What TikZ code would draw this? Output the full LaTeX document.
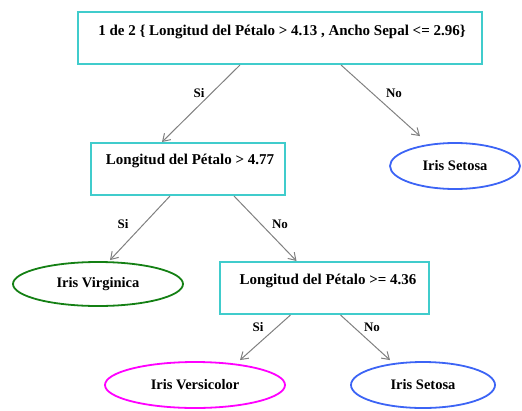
\documentclass[tikz,border=0pt]{standalone}
\usepackage{fontspec}
\setmainfont{Liberation Serif}
\usetikzlibrary{arrows.meta,shapes.geometric,calc}
\definecolor{boxc}{RGB}{64,204,204}
\definecolor{greenc}{RGB}{20,128,20}
\definecolor{magc}{RGB}{255,0,255}
\definecolor{bluec}{RGB}{60,100,245}
\definecolor{arrc}{RGB}{128,128,128}
\tikzset{
  box/.style={draw=boxc, line width=2pt, rectangle, inner sep=0pt},
  leaf/.style={ellipse, line width=1.8pt, inner sep=0pt, font=\bfseries\fontsize{14.5}{16}\selectfont},
  txt/.style={font=\bfseries\fontsize{15}{17}\selectfont, inner sep=0pt},
  edge/.style={draw=arrc, line width=1pt, -{Straight Barb[length=7pt,width=9pt,line width=1pt]}},
  elab/.style={font=\bfseries\fontsize{13}{14}\selectfont, inner sep=0pt}
}
\begin{document}
\begin{tikzpicture}[x=1pt,y=-1pt]
\useasboundingbox (0,0) rectangle (522,410);
% boxes
\node[box, minimum width=404pt, minimum height=52pt] (b1) at (280,38) {};
\node[txt] (t1) at (282,32) {1 de 2 \{ Longitud del Pétalo > 4.13 , Ancho Sepal <= 2.96\}};
\node[box, minimum width=194pt, minimum height=52pt] (b2) at (188,169) {};
\node[txt] (t2) at (190,161) {Longitud del Pétalo > 4.77};
\node[box, minimum width=209pt, minimum height=52pt] (b3) at (324.5,288) {};
\node[txt] (t3) at (328,281) {Longitud del Pétalo >= 4.36};
% leaves
\node[leaf, draw=bluec, minimum width=130pt, minimum height=46pt] (s1) at (455,166) {Iris Setosa};
\node[leaf, draw=greenc, minimum width=170pt, minimum height=44pt] (v1) at (98,284) {Iris Virginica};
\node[leaf, draw=magc, minimum width=180pt, minimum height=46pt] (c1) at (195,385) {Iris Versicolor};
\node[leaf, draw=bluec, minimum width=144pt, minimum height=46pt] (s2) at (423,385) {Iris Setosa};
% edge endpoints
\coordinate (e1a) at ($(b1.south)+(-40,0)$);
\coordinate (e1b) at ($(b1.south)+(61,0)$);
\coordinate (e1t) at ($(b2.north)+(-26,0)$);
\coordinate (e2a) at ($(b2.south)+(-18,0)$);
\coordinate (e2b) at ($(b2.south)+(46,0)$);
\coordinate (e3a) at ($(b3.south)+(-34,0)$);
\coordinate (e3b) at ($(b3.south)+(16,0)$);
\coordinate (e3t) at ($(b3.north)+(-28,0)$);
\coordinate (s1t) at ($(s1.north)+(-35,-6)$);
\coordinate (v1t) at ($(v1.north)+(12,-1)$);
\coordinate (c1t) at ($(c1.north)+(45,-1)$);
\coordinate (s2t) at ($(s2.north)+(-33,-1)$);
\draw[edge] (e1a) -- (e1t);
\draw[edge] (e1b) -- (s1t);
\draw[edge] (e2a) -- (v1t);
\draw[edge] (e2b) -- (e3t);
\draw[edge] (e3a) -- (c1t);
\draw[edge] (e3b) -- (s2t);
\node[elab] (l1) at (199,93) {Si};
\node[elab] (l2) at (394,93) {No};
\node[elab] (l3) at (123,224) {Si};
\node[elab] (l4) at (280,224) {No};
\node[elab] (l5) at (258,327) {Si};
\node[elab] (l6) at (372,327) {No};
\end{tikzpicture}
\end{document}
